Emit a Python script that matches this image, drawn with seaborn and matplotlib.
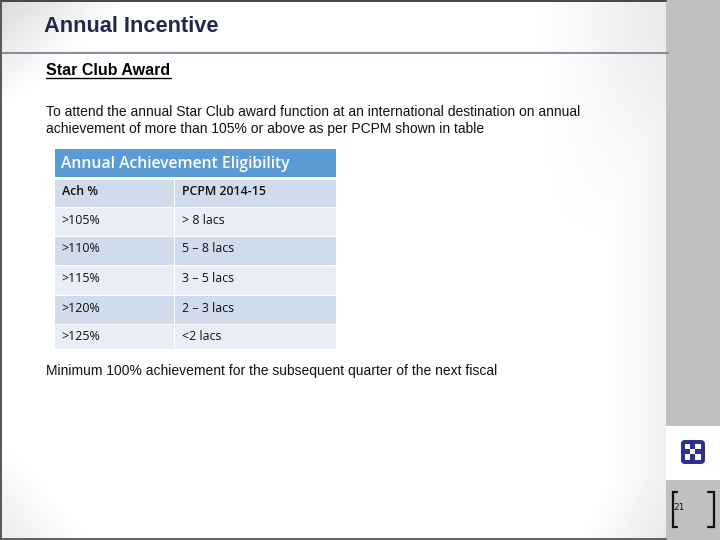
import numpy as np
import pandas as pd
import matplotlib
matplotlib.use("Agg")
import matplotlib.pyplot as plt
from matplotlib.patches import Rectangle, FancyBboxPatch
import seaborn as sns

title = "Annual Incentive"
subtitle = "Star Club Award"
intro = ["To attend the annual Star Club award function at an international destination on annual",
         "achievement of more than 105% or above as per PCPM shown in table"]
table_title = "Annual Achievement Eligibility"
col_ach = ["Ach %", ">105%", ">110%", ">115%", ">120%", ">125%"]
col_pcpm = ["PCPM 2014-15", "> 8 lacs", "5 – 8 lacs", "3 – 5 lacs", "2 – 3 lacs", "<2 lacs"]
footer = "Minimum 100% achievement for the subsequent quarter of the next fiscal"
page = "21"
row_band = [0, 1, 0, 1, 0, 1]

sns.set_theme(style="white")
W, H = 720, 540
fig = plt.figure(figsize=(W/100, H/100), dpi=100, facecolor="white")
bg = fig.add_axes([0, 0, 1, 1])
bg.set_xlim(0, W); bg.set_ylim(H, 0); bg.axis("off")

# slide gradient
yy, xx = np.mgrid[0:H, 0:666]
d1 = np.clip(1 - (xx/135.0 + yy/115.0), 0, 1) * 0.15
d2 = np.clip(1 - (666-xx)/130.0, 0, 1) * np.clip(1.15 - yy/220.0, 0, 1) * 0.09
d2b = np.clip(1 - (666-xx)/60.0, 0, 1) * 0.06
d3 = np.clip(1 - ((666-xx)/90.0 + (540-yy)/190.0), 0, 1) * 0.09
d4 = np.clip(1 - (xx/95.0 + (540-yy)/110.0), 0, 1) * 0.08
grad = 1 - np.maximum.reduce([d1, d2, d2b, d3, d4])
bg.imshow(grad, extent=(0, 666, H, 0), cmap="gray", vmin=0, vmax=1, aspect="auto", zorder=0)
bg.set_xlim(0, W); bg.set_ylim(H, 0)

# right band
bg.add_patch(Rectangle((666, 0), 54, H, fc="#C0C0C0", ec="none", zorder=1))
bg.add_patch(Rectangle((666, 426), 54, 54, fc="white", ec="none", zorder=2))
# frame lines
bg.plot([0, 666], [0.7, 0.7], color="#444444", lw=1.4, zorder=3)
bg.plot([0.7, 0.7], [0, H], color="#555555", lw=1.4, zorder=3)
bg.plot([0, 666], [539.2, 539.2], color="#555555", lw=1.3, zorder=3)
bg.plot([2, 666], [51.5, 51.5], color="#CFE0F0", lw=1, zorder=3)
bg.plot([2, 668], [53, 53], color="#6E7F90", lw=1.2, zorder=3)

# logo
bg.add_patch(FancyBboxPatch((683, 442), 20, 20, boxstyle="round,pad=2,rounding_size=4",
                            fc="#2E3192", ec="none", zorder=3))
for i in range(3):
    for j in range(3):
        if (i + j) % 2 == 0:
            bg.add_patch(Rectangle((685 + i*5.2, 444 + j*5.2), 5.2, 5.2, fc="white", ec="none", zorder=4))
# brackets
for xs in ([677, 672.5, 672.5, 677], [708, 714, 714, 708]):
    bg.plot(xs, [492, 492, 527, 527], color="#111111", lw=1.6, zorder=3, solid_joinstyle="miter")
bg.text(673.5, 508, page, fontsize=6.5, family="DejaVu Sans", color="#111111", va="center", zorder=4)

# texts
bg.text(44, 26.8, title, fontsize=15.7, fontweight="bold", family="Liberation Sans", color="#23274A", va="center", zorder=4)
bg.text(46, 70.5, subtitle, fontsize=11.5, family="Liberation Sans", fontweight="bold", color="black", va="center", zorder=4)
bg.plot([46, 171], [77.5, 77.5], color="black", lw=1, zorder=4)
for y, line in zip([112.3, 128.5], intro):
    bg.text(46, y, line, fontsize=9.98, family="Liberation Sans", color="#111111", va="center", zorder=4)
bg.text(46, 370.8, footer, fontsize=10.0, family="Liberation Sans", color="#111111", va="center", zorder=4)

# table header
bg.add_patch(Rectangle((55, 149), 281, 28, fc="#5B9BD5", ec="none", zorder=3))
bg.text(61, 163.5, table_title, fontsize=11.3, family="Open Sans", fontweight="semibold", color="white", va="center", zorder=4)

# table body: one single-cell seaborn heatmap per cell, because rows and columns differ in size
row_tops = [180, 208, 237, 266, 296, 325]
row_bottoms = [207, 236, 265, 295, 324, 349]
col_spans = [(55, 174), (175, 336)]
band_cmap = sns.color_palette(["#D0DCEC", "#E9EEF6"], as_cmap=True)
for (x0, x1), labels in zip(col_spans, [col_ach, col_pcpm]):
    for i, label in enumerate(labels):
        y0, y1 = row_tops[i], row_bottoms[i]
        ax = fig.add_axes([x0/W, 1 - y1/H, (x1-x0)/W, (y1-y0)/H], facecolor="none")
        sns.heatmap(pd.DataFrame({"band": [float(row_band[i])]}), ax=ax, cbar=False, cmap=band_cmap,
                    vmin=0, vmax=1, linewidths=0, xticklabels=False, yticklabels=False)
        ax.axis("off")
        ax.text(6.5/(x1-x0), 1 - 12/(y1-y0), label, transform=ax.transAxes,
                fontsize=8.9, family="Open Sans", fontweight="semibold" if i == 0 else "normal",
                color="#111111", va="center")

fig.savefig("out.png", dpi=100)
